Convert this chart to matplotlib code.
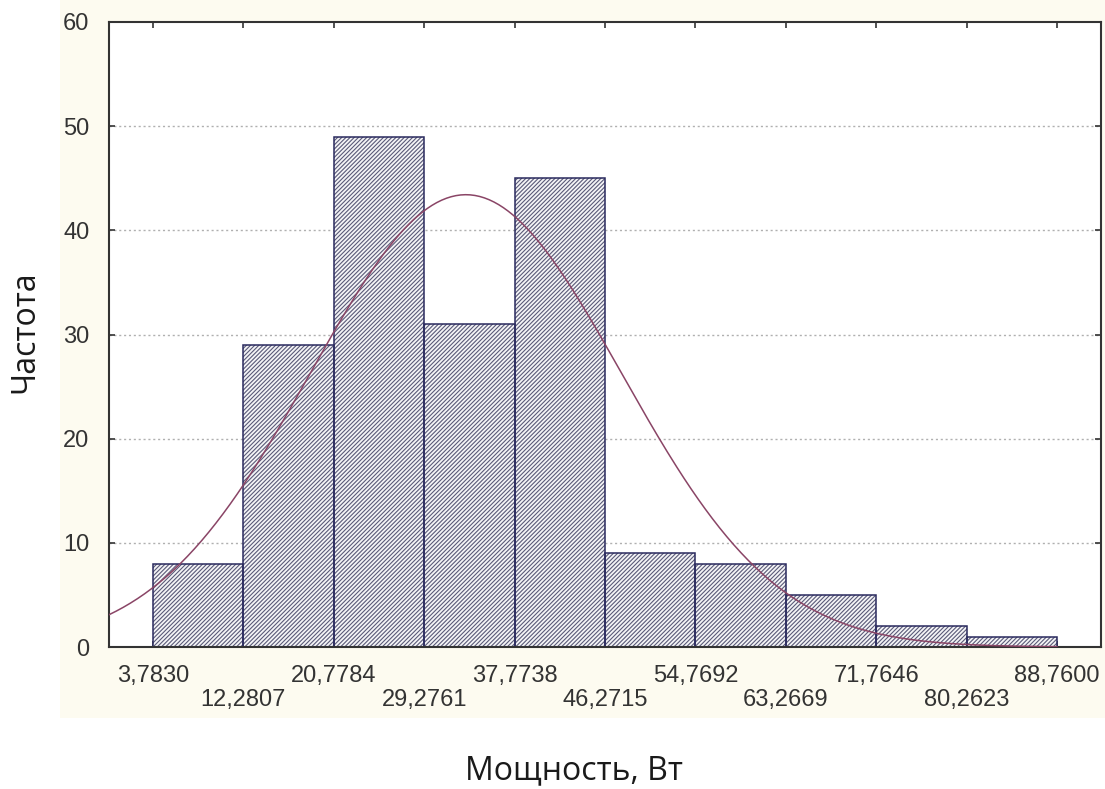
import numpy as np
import matplotlib
matplotlib.use("Agg")
import matplotlib.pyplot as plt

# Data
bin_edges = [3.7830, 12.2807, 20.7784, 29.2761, 37.7738, 46.2715,
             54.7692, 63.2669, 71.7646, 80.2623, 88.7600]
counts = [8, 29, 49, 31, 45, 9, 8, 5, 2, 1]
edge_labels = ["3,7830", "12,2807", "20,7784", "29,2761", "37,7738", "46,2715",
               "54,7692", "63,2669", "71,7646", "80,2623", "88,7600"]
y_ticks = [0, 10, 20, 30, 40, 50, 60]
fit_mean = 33.2
fit_sd = 14.6

W, H = 1105, 789
fig = plt.figure(figsize=(W / 100, H / 100), dpi=100)
fig.patch.set_facecolor("white")

# cream background panel behind the chart
bg = fig.add_axes([60 / W, 1 - 718 / H, (W - 60) / W, 718 / H], zorder=0)
bg.set_facecolor("#fdfbf0")
bg.set_xticks([]); bg.set_yticks([])
for s in bg.spines.values():
    s.set_visible(False)

ax = fig.add_axes([109 / W, 1 - 647 / H, (1101 - 109) / W, (647 - 22) / H], zorder=1)
ax.set_facecolor("white")

plt.rcParams["hatch.linewidth"] = 0.8
widths = np.diff(bin_edges)
# hatch fill (grey-blue lines)
ax.bar(bin_edges[:-1], counts, width=widths, align="edge",
       facecolor="#f4f4f6", edgecolor="#5a5a78", hatch="////////",
       linewidth=0, zorder=2)
# bar outlines
ax.bar(bin_edges[:-1], counts, width=widths, align="edge",
       facecolor="none", edgecolor="#2a2a5e", linewidth=1.1, zorder=2.5)

# fitted normal curve
n = sum(counts)
bw = widths.mean()
xs = np.linspace(-0.35, bin_edges[-1], 400)
ys = n * bw / (fit_sd * np.sqrt(2 * np.pi)) * np.exp(-0.5 * ((xs - fit_mean) / fit_sd) ** 2)
ax.plot(xs, ys, color="#8a4566", linewidth=1.1, zorder=3)

ax.set_xlim(-0.35, 92.9)
ax.set_ylim(0, 60)
ax.set_yticks(y_ticks)
ax.set_xticks(bin_edges)
ax.set_xticklabels([])

for y in y_ticks[1:-1]:
    ax.axhline(y, color="#b0b0b0", linewidth=1.0, linestyle=(0, (1.5, 2)), zorder=1)

tick_font = dict(family=["Liberation Sans", "DejaVu Sans"], size=17, color="#333333")
ax.tick_params(axis="both", direction="in", length=4, width=1.2, color="#333333",
               top=True, right=True)
ax.tick_params(axis="y", pad=14)
for lab in ax.get_yticklabels():
    lab.set_fontfamily(["Liberation Sans", "DejaVu Sans"])
    lab.set_fontsize(17)
    lab.set_color("#333333")

for i, (e, lab) in enumerate(zip(bin_edges, edge_labels)):
    yoff = 676 if i % 2 == 0 else 700
    ax.text(e, 1 - (yoff - 22) / (647 - 22), lab, transform=ax.get_xaxis_transform(),
            ha="center", va="center", clip_on=False, **tick_font)

for s in ax.spines.values():
    s.set_color("#333333")
    s.set_linewidth(1.5)

label_font = dict(family=["Open Sans", "DejaVu Sans"], size=23, color="#1a1a1a")
fig.text(574 / W, 1 - 771 / H, "Мощность, Вт", ha="center", va="center", **label_font)
fig.text(25 / W, 1 - 332 / H, "Частота", ha="center", va="center", rotation=90, **label_font)

fig.savefig("out.png", dpi=100, facecolor=fig.get_facecolor())
